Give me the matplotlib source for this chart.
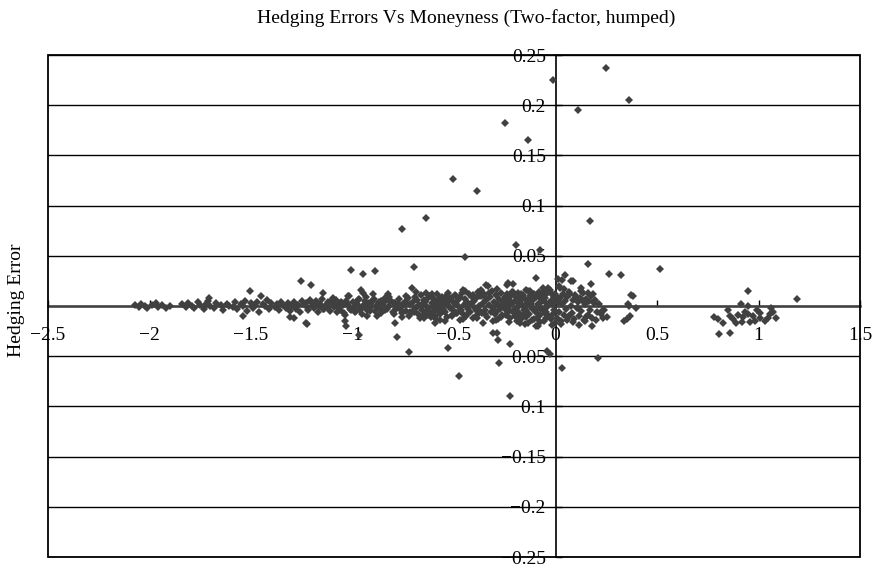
import matplotlib
matplotlib.use("Agg")
import matplotlib.pyplot as plt
from matplotlib.patches import Rectangle
from matplotlib.ticker import FuncFormatter, MultipleLocator

plt.rcParams['font.family'] = ['Liberation Serif', 'DejaVu Serif']

# main band of hedging errors, moneyness -2.07 .. -1.24
left_x = [-2.07, -2.05, -2.04, -2.02, -2.01, -1.99, -1.97, -1.96, -1.94, -1.92,
          -1.90, -1.84, -1.82, -1.81, -1.79, -1.78, -1.76, -1.75, -1.73, -1.72,
          -1.71, -1.70, -1.68, -1.67, -1.65, -1.64, -1.62, -1.61, -1.59, -1.58,
          -1.57, -1.55, -1.54, -1.53, -1.52, -1.50, -1.49, -1.48, -1.47, -1.46,
          -1.44, -1.43, -1.42, -1.41, -1.40, -1.38, -1.37, -1.36, -1.35, -1.34,
          -1.33, -1.32, -1.31, -1.30, -1.29, -1.28, -1.27, -1.26, -1.25, -1.24]
left_y = [0.001, -0.001, 0.002, 0.000, -0.002, 0.001, 0.003, -0.001, 0.001, -0.002,
          0.000, 0.002, -0.001, 0.003, 0.000, -0.002, 0.004, 0.001, -0.003, 0.002,
          0.005, 0.000, -0.002, 0.003, 0.001, -0.004, 0.002, 0.000, -0.001, 0.004,
          -0.003, 0.002, 0.000, 0.005, -0.005, 0.003, -0.002, 0.001, 0.004, -0.006,
          0.002, 0.000, 0.006, -0.003, 0.003, -0.001, 0.002, -0.004, 0.004, 0.001,
          -0.002, 0.003, -0.005, 0.000, 0.004, -0.003, 0.001, -0.006, 0.005, 0.002]

# moneyness -1.23 .. -0.70
mid_x = [-1.23, -1.22, -1.21, -1.20, -1.19, -1.18, -1.17, -1.16, -1.15, -1.14,
         -1.13, -1.12, -1.11, -1.10, -1.09, -1.08, -1.07, -1.06, -1.05, -1.04,
         -1.03, -1.02, -1.01, -1.00, -0.99, -0.98, -0.97, -0.96, -0.95, -0.94,
         -0.93, -0.92, -0.91, -0.90, -0.89, -0.88, -0.87, -0.86, -0.85, -0.84,
         -0.83, -0.82, -0.81, -0.80, -0.79, -0.78, -0.77, -0.76, -0.75, -0.74,
         -1.225, -1.185, -1.145, -1.105, -1.065, -1.025, -0.985, -0.945, -0.905, -0.865,
         -0.825, -0.785, -0.745, -0.735, -0.725, -0.715, -0.705, -1.165, -1.085, -0.965,
         -0.915, -0.875, -0.835, -0.795, -0.755, -1.205, -1.125, -1.045, -1.005, -0.925]
mid_y = [0.003, -0.004, 0.006, 0.000, -0.002, 0.005, -0.006, 0.002, 0.007, -0.003,
         0.001, 0.004, -0.005, 0.002, -0.001, 0.006, 0.000, -0.004, 0.003, -0.007,
         0.005, 0.001, -0.003, 0.004, -0.006, 0.002, 0.007, -0.002, 0.000, 0.005,
         -0.004, 0.003, -0.001, 0.006, -0.005, 0.001, 0.004, -0.007, 0.002, 0.008,
         -0.003, 0.000, 0.005, -0.006, 0.003, -0.001, 0.007, -0.004, 0.002, 0.004,
         -0.001, 0.002, -0.003, 0.005, -0.002, 0.003, -0.005, 0.001, 0.004, -0.002,
         0.006, -0.003, 0.001, -0.005, 0.008, 0.002, -0.006, 0.000, 0.004, -0.004,
         0.002, -0.002, 0.006, 0.003, -0.007, 0.004, -0.001, 0.001, -0.004, 0.000]

# moneyness -0.70 .. -0.25
near_x = [-0.700, -0.695, -0.690, -0.685, -0.680, -0.675, -0.670, -0.665, -0.660, -0.655,
          -0.650, -0.645, -0.640, -0.635, -0.630, -0.625, -0.620, -0.615, -0.610, -0.605,
          -0.600, -0.595, -0.590, -0.585, -0.580, -0.575, -0.570, -0.565, -0.560, -0.555,
          -0.550, -0.545, -0.540, -0.535, -0.530, -0.525, -0.520, -0.515, -0.510, -0.505,
          -0.500, -0.495, -0.490, -0.485, -0.480, -0.475, -0.470, -0.465, -0.460, -0.455,
          -0.450, -0.445, -0.440, -0.435, -0.430, -0.425, -0.420, -0.415, -0.410, -0.405,
          -0.400, -0.395, -0.390, -0.385, -0.380, -0.375, -0.370, -0.365, -0.360, -0.355,
          -0.350, -0.345, -0.340, -0.335, -0.330, -0.325, -0.320, -0.315, -0.310, -0.305,
          -0.300, -0.295, -0.290, -0.285, -0.280, -0.275, -0.270, -0.265, -0.260, -0.255,
          -0.692, -0.642, -0.592, -0.542, -0.492, -0.442, -0.392, -0.342, -0.292, -0.262]
near_y = [0.004, -0.006, 0.009, -0.002, 0.006, -0.008, 0.001, 0.011, -0.004, 0.003,
          -0.009, 0.005, 0.000, -0.005, 0.008, -0.002, 0.010, -0.007, 0.003, -0.001,
          0.007, -0.010, 0.002, 0.012, -0.004, 0.005, -0.008, 0.000, 0.009, -0.003,
          0.003, -0.006, 0.010, -0.011, 0.001, 0.006, -0.002, 0.008, -0.009, 0.004,
          -0.005, 0.011, 0.002, -0.007, 0.006, -0.001, 0.009, -0.004, 0.013, -0.008,
          0.001, 0.007, -0.010, 0.004, -0.003, 0.012, -0.006, 0.002, 0.009, -0.012,
          0.005, -0.002, 0.008, -0.009, 0.014, 0.000, -0.005, 0.010, -0.007, 0.003,
          0.012, -0.004, 0.006, -0.011, 0.001, 0.009, -0.006, 0.015, -0.002, 0.004,
          -0.008, 0.011, 0.002, -0.013, 0.007, -0.003, 0.013, -0.009, 0.005, 0.001,
          -0.002, 0.004, -0.005, 0.006, -0.007, 0.003, -0.004, 0.008, -0.006, 0.002]

# moneyness -0.25 .. 0
inner_x = [-0.250, -0.245, -0.240, -0.235, -0.230, -0.225, -0.220, -0.215, -0.210, -0.205,
           -0.200, -0.195, -0.190, -0.185, -0.180, -0.175, -0.170, -0.165, -0.160, -0.155,
           -0.150, -0.145, -0.140, -0.135, -0.130, -0.125, -0.120, -0.115, -0.110, -0.105,
           -0.100, -0.095, -0.090, -0.085, -0.080, -0.075, -0.070, -0.065, -0.060, -0.055,
           -0.050, -0.045, -0.040, -0.035, -0.030, -0.025, -0.020, -0.015, -0.010, -0.005,
           -0.247, -0.222, -0.197, -0.172, -0.147, -0.122, -0.097, -0.072, -0.047, -0.022,
           -0.238, -0.208, -0.178, -0.148, -0.118, -0.088, -0.058, -0.028, -0.013, -0.003,
           -0.232, -0.187, -0.162, -0.137, -0.112, -0.082, -0.052, -0.038, -0.018, -0.008]
inner_y = [0.006, -0.009, 0.012, -0.003, 0.008, -0.012, 0.002, 0.014, -0.006, 0.004,
           -0.010, 0.009, -0.002, 0.013, -0.007, 0.005, -0.013, 0.001, 0.011, -0.004,
           0.007, -0.011, 0.003, 0.015, -0.008, 0.010, -0.001, -0.014, 0.006, 0.012,
           -0.005, 0.009, -0.012, 0.002, 0.014, -0.009, 0.004, -0.003, 0.011, -0.015,
           0.008, -0.006, 0.013, -0.010, 0.003, 0.016, -0.013, 0.006, -0.008, 0.010,
           -0.003, 0.005, -0.007, 0.008, -0.004, 0.002, -0.006, 0.007, -0.002, 0.004,
           0.001, -0.005, 0.004, -0.008, 0.009, -0.001, 0.005, -0.011, 0.002, -0.017,
           -0.006, 0.003, -0.009, 0.006, -0.003, 0.010, -0.007, 0.001, 0.012, -0.004]

# moneyness 0 .. 0.26
pos_x = [0.003, 0.008, 0.012, 0.016, 0.020, 0.025, 0.030, 0.035, 0.040, 0.045,
         0.050, 0.056, 0.062, 0.068, 0.074, 0.080, 0.086, 0.092, 0.098, 0.104,
         0.110, 0.116, 0.122, 0.128, 0.134, 0.140, 0.146, 0.152, 0.158, 0.164,
         0.170, 0.176, 0.182, 0.188, 0.195, 0.205, 0.215, 0.225, 0.240, 0.255]
pos_y = [0.010, -0.012, 0.004, -0.006, 0.008, -0.015, 0.002, 0.012, -0.009, 0.005,
         -0.003, 0.009, -0.011, 0.014, 0.000, -0.007, 0.006, -0.013, 0.011, -0.002,
         0.004, -0.010, 0.008, -0.005, 0.013, -0.014, 0.002, 0.007, -0.009, 0.005,
         -0.004, 0.010, -0.012, 0.003, 0.006, -0.006, 0.002, -0.008, -0.004, -0.011]

# extra points thickening the band between -1.1 and 0.2
fill_x = [-1.095, -1.075, -1.055, -1.035, -1.015, -0.995, -0.975, -0.955, -0.935, -0.915,
          -0.895, -0.878, -0.858, -0.838, -0.818, -0.798, -0.778, -0.758, -0.738, -0.718,
          -0.688, -0.668, -0.648, -0.628, -0.608, -0.588, -0.568, -0.548, -0.528, -0.508,
          -0.488, -0.468, -0.448, -0.428, -0.408, -0.388, -0.368, -0.348, -0.328, -0.308,
          -0.288, -0.268, -0.248, -0.228, -0.208, -0.188, -0.168, -0.148, -0.128, -0.108,
          -0.093, -0.078, -0.063, -0.048, -0.033, -0.018, -0.006, 0.015, 0.028, 0.042,
          0.058, 0.072, 0.088, 0.102, 0.118, 0.132, 0.148, 0.162, 0.178, 0.192,
          -0.615, -0.535, -0.455, -0.375, -0.295, -0.215, -0.135, -0.055, 0.065, 0.125]
fill_y = [0.008, -0.006, 0.004, -0.009, 0.010, -0.003, 0.006, -0.008, 0.009, -0.005,
          0.007, -0.010, 0.005, -0.004, 0.009, -0.008, 0.003, -0.011, 0.010, -0.006,
          0.014, -0.012, 0.006, -0.009, 0.012, -0.013, 0.008, -0.005, 0.013, -0.010,
          0.010, -0.014, 0.015, -0.006, 0.011, -0.012, 0.016, -0.008, 0.013, -0.015,
          0.017, -0.011, 0.009, -0.016, 0.014, -0.010, 0.012, -0.018, 0.015, -0.013,
          0.011, -0.016, 0.018, -0.012, 0.014, -0.019, 0.009, 0.020, -0.018, 0.017,
          -0.014, 0.012, -0.016, 0.009, -0.019, 0.006, -0.011, 0.013, -0.020, 0.004,
          -0.011, 0.009, -0.013, 0.010, -0.014, 0.012, -0.017, 0.015, -0.010, 0.018]

# scattered points away from the band
out_x = [-0.010, 0.248, 0.363, 0.113, -0.251, -0.135, -0.504, -0.389, -0.639, -0.756,
         0.172, -0.197, -0.447, -0.077, -1.706, -1.506, -1.453, -1.539, -1.310, -1.256,
         -1.202, -1.227, -1.290, -1.145, -1.005, -0.949, -0.890, -0.698, -0.959, -0.950,
         -0.898, -0.825, -0.709, -1.020, -1.224, -1.038, -1.033, -0.969, -0.792, -0.780,
         -0.723, -0.930, -0.720, -0.640, -0.455, -0.332, -0.529, -0.475, -0.279, -0.595,
         -0.545, -0.649, -0.357, -0.288, -0.281, -0.094, 0.010, -0.209, -0.238, -0.143,
         -0.036, -0.225, -0.225, -0.044, -0.028, -0.176, -0.094, -0.233, -0.340, -0.307,
         -0.086, -0.570, -0.192, 0.158, 0.263, 0.322, 0.514, 0.049, 0.030, 0.087,
         0.174, 0.128, 0.185, 0.374, 0.358, 0.399, 0.366, 0.350, 0.336, 0.227,
         0.235, 0.144, 0.030, 0.210, 0.021, 0.382, 0.363, 0.078, 0.198, -0.003]
out_y = [0.225, 0.237, 0.205, 0.195, 0.182, 0.165, 0.126, 0.115, 0.088, 0.077,
         0.085, 0.061, 0.049, 0.056, 0.008, 0.015, 0.010, -0.010, -0.011, 0.025,
         0.021, -0.017, -0.012, 0.013, 0.036, 0.032, 0.035, 0.039, 0.016, 0.013,
         0.012, 0.012, 0.018, 0.010, -0.018, -0.015, -0.020, -0.029, -0.017, -0.031,
         -0.046, -0.010, -0.010, 0.013, 0.016, 0.020, -0.042, -0.070, -0.057, -0.017,
         -0.015, -0.012, -0.017, -0.027, -0.034, 0.028, 0.027, 0.022, 0.021, 0.016,
         0.018, -0.038, -0.090, -0.045, -0.048, -0.017, -0.020, 0.023, 0.021, -0.027,
         -0.020, -0.014, -0.015, 0.042, 0.032, 0.031, 0.037, 0.031, 0.026, 0.025,
         0.022, 0.015, 0.012, 0.011, 0.002, -0.002, -0.010, -0.013, -0.015, -0.005,
         -0.012, -0.015, -0.062, -0.052, 0.018, 0.010, 0.000, 0.025, -0.014, 0.012]

# in-the-money cluster around 0.8 .. 1.2
itm_x = [0.949, 0.913, 0.949, 1.064, 1.192, 0.850, 0.780, 0.801, 0.826, 0.859,
         0.875, 0.900, 0.925, 0.950, 0.974, 0.982, 1.006, 1.030, 1.047, 1.088,
         1.055, 1.006, 0.806, 0.859, 0.890, 0.920, 0.960, 0.935, 0.995, 1.070]
itm_y = [0.015, 0.002, 0.000, -0.002, 0.007, -0.004, -0.011, -0.013, -0.017, -0.010,
         -0.013, -0.009, -0.011, -0.008, -0.010, -0.015, -0.012, -0.015, -0.012, -0.012,
         -0.008, -0.007, -0.028, -0.027, -0.017, -0.016, -0.016, -0.006, -0.004, -0.006]

xs = left_x + mid_x + near_x + inner_x + pos_x + fill_x + out_x + itm_x
ys = left_y + mid_y + near_y + inner_y + pos_y + fill_y + out_y + itm_y

fig = plt.figure(figsize=(8.74, 5.69), dpi=100)
ax = fig.add_axes([48 / 874, 1 - 557 / 569, 812 / 874, 502 / 569])

ax.plot(xs, ys, linestyle='none', marker='D', markersize=4,
        color='#404040', markeredgewidth=0, zorder=4)

ax.set_xlim(-2.5, 1.5)
ax.set_ylim(-0.25, 0.25)
ax.xaxis.set_major_locator(MultipleLocator(0.5))
ax.yaxis.set_major_locator(MultipleLocator(0.05))

def fmt(v, pos):
    s = '%g' % round(v, 3)
    if s == '-0':
        s = '0'
    return s.replace('-', '\u2212')

ax.xaxis.set_major_formatter(FuncFormatter(fmt))
ax.yaxis.set_major_formatter(FuncFormatter(fmt))

ax.spines['left'].set_position(('data', 0))
ax.spines['bottom'].set_position(('data', 0))
ax.spines['right'].set_visible(False)
ax.spines['top'].set_visible(False)
ax.spines['left'].set_linewidth(1.2)
ax.spines['bottom'].set_color('#404040')
ax.spines['bottom'].set_linewidth(1.8)

ax.tick_params(axis='x', direction='in', length=4, width=1, pad=15, labelsize=14)
ax.tick_params(axis='y', direction='in', length=4, width=1, pad=7, labelsize=14)

ax.yaxis.grid(True, color='black', linewidth=1)
ax.set_axisbelow(True)

ax.add_patch(Rectangle((0, 0), 1, 1, transform=ax.transAxes, fill=False,
                       edgecolor='black', linewidth=1.3, clip_on=False, zorder=5))

fig.text(466 / 874, 1 - 18 / 569, 'Hedging Errors Vs Moneyness (Two-factor, humped)',
         ha='center', va='center', fontsize=14)
fig.text(17 / 874, 1 - 300 / 569, 'Hedging Error', rotation=90,
         ha='center', va='center', fontsize=14)

fig.savefig('out.png', dpi=100)
